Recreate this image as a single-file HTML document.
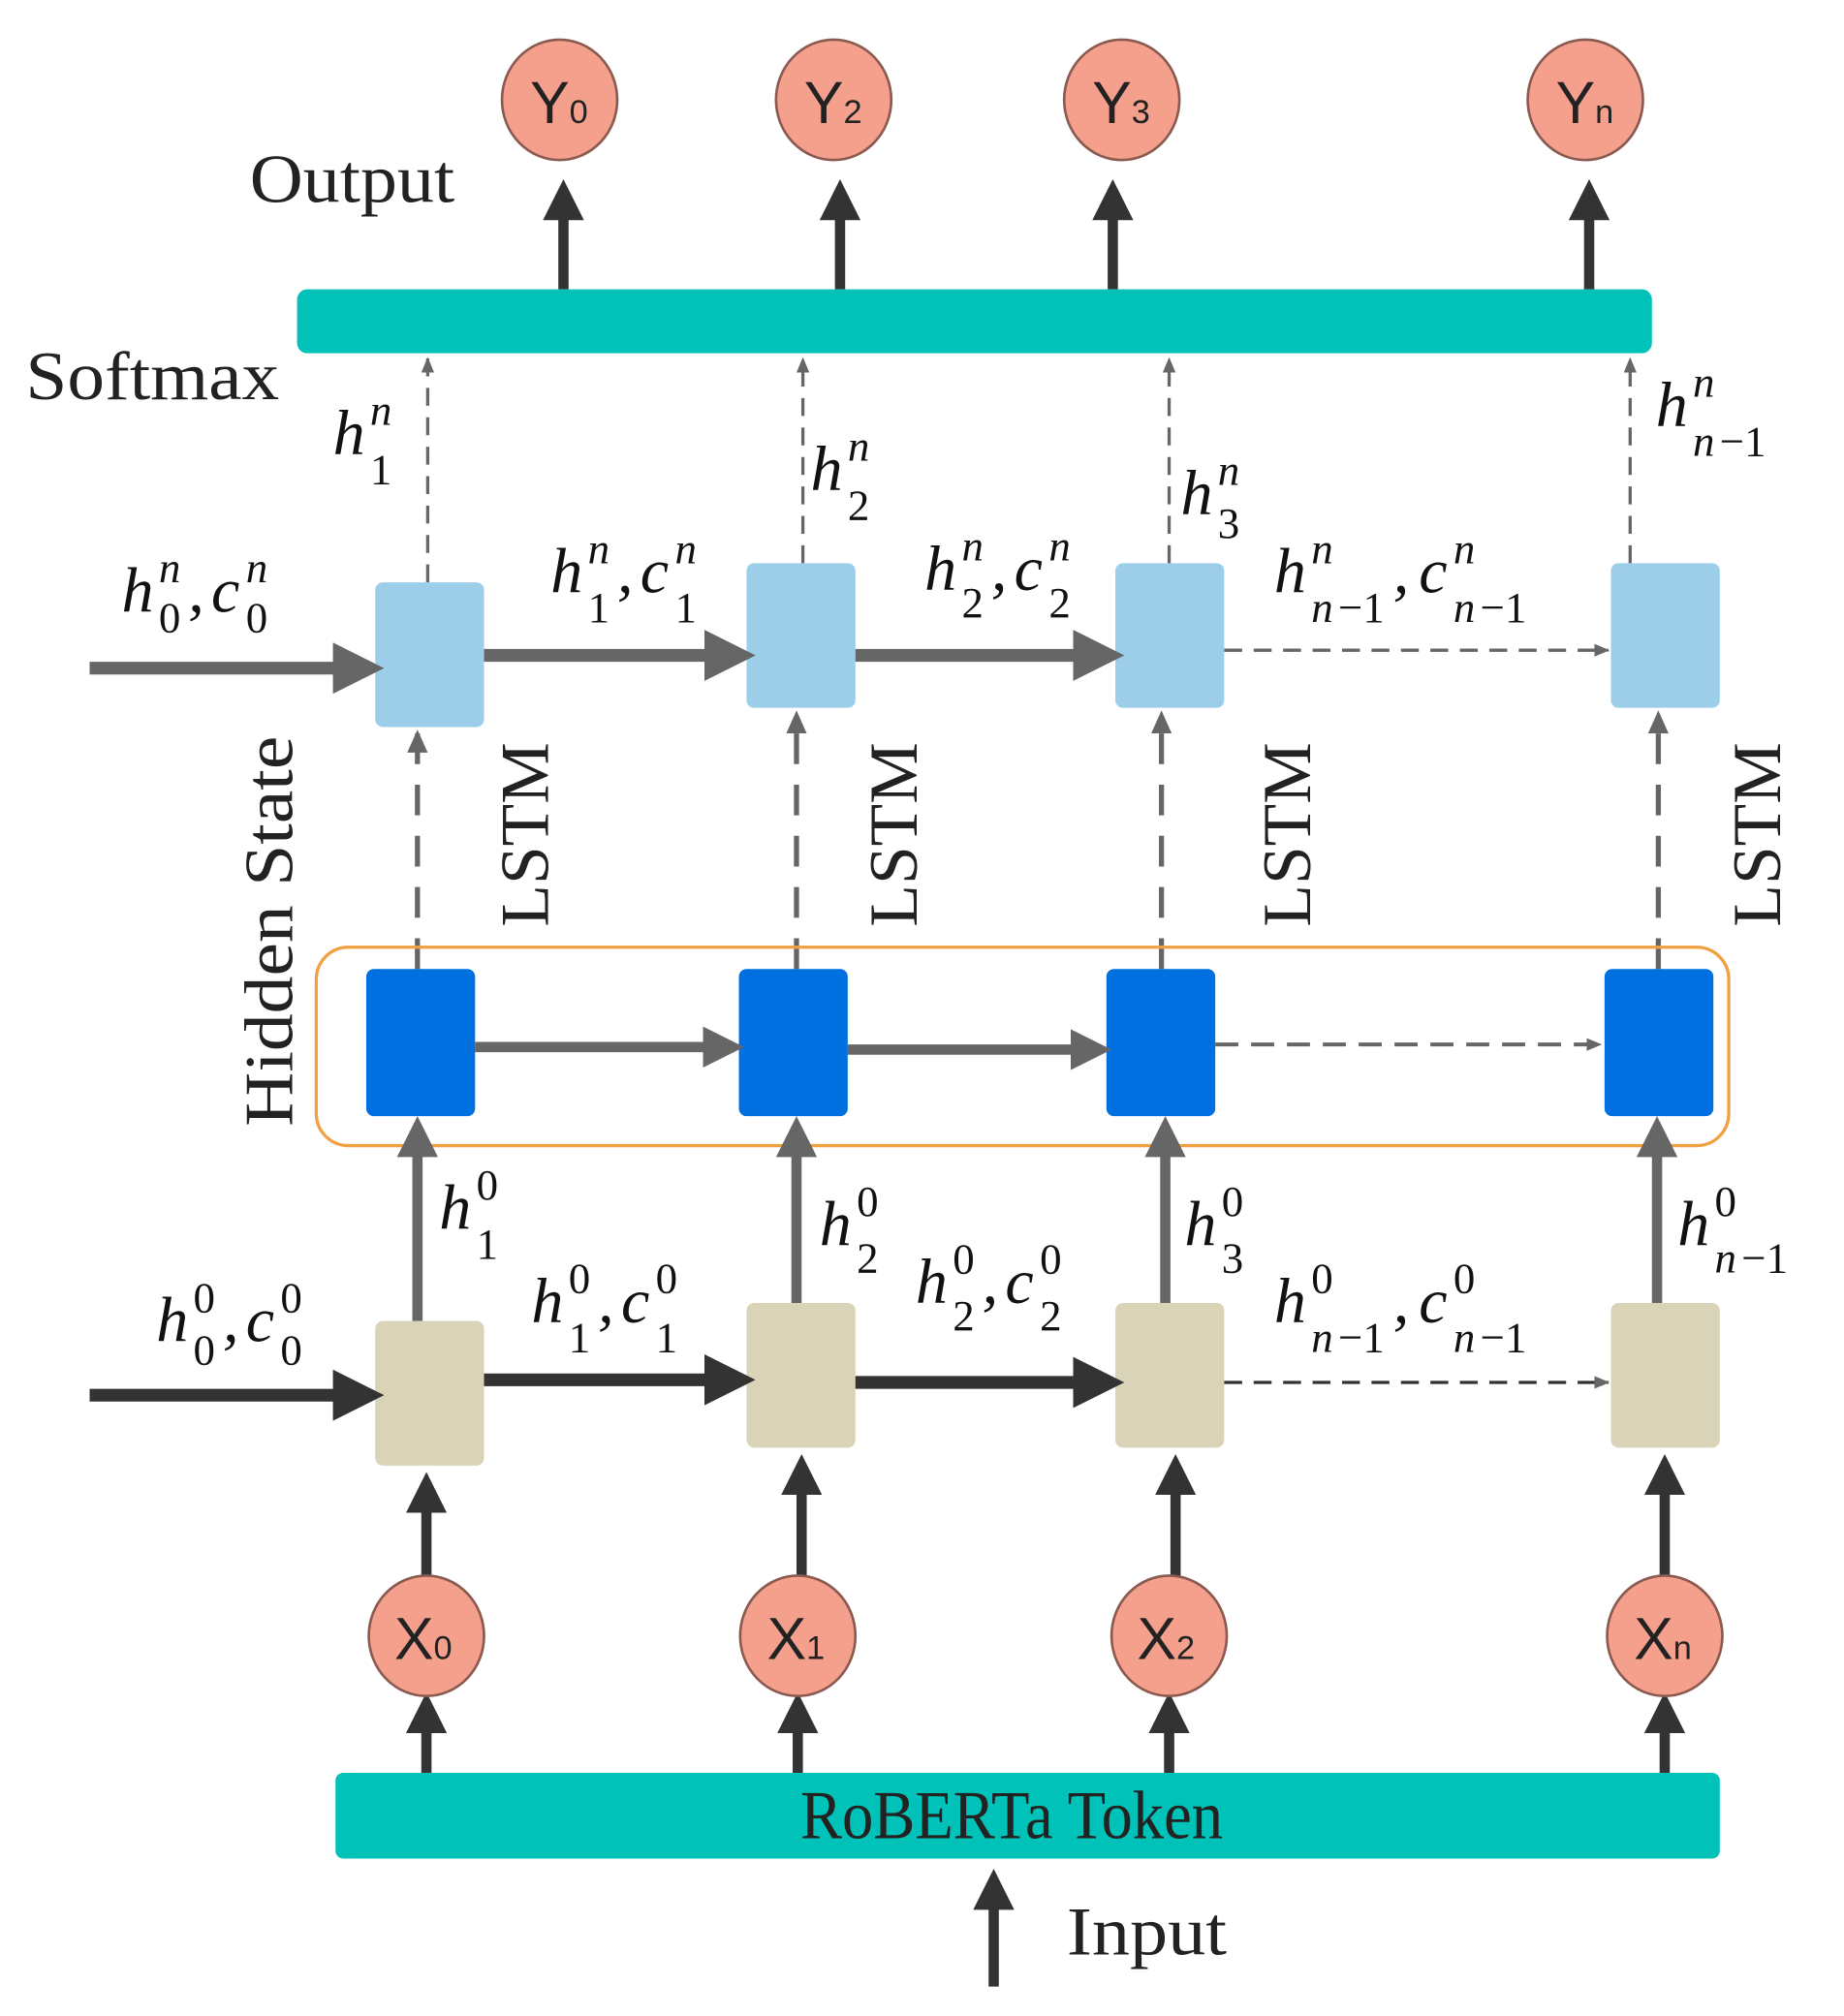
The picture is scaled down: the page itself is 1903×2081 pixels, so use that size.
<!DOCTYPE html>
<html><head><meta charset="utf-8"><style>
html,body{margin:0;padding:0;background:#fff;}
svg{display:block;}
.m{font-family:"Liberation Serif",serif;font-style:italic;font-size:50px;fill:#111;}
.s{font-family:"Liberation Serif",serif;font-size:34px;fill:#111;}
.si{font-family:"Liberation Serif",serif;font-style:italic;font-size:34px;fill:#111;}
.t{font-family:"Liberation Serif",serif;font-size:54px;fill:#222;}
.c{font-family:"Liberation Sans",sans-serif;font-size:46px;fill:#222;}
.cs{font-family:"Liberation Sans",sans-serif;font-size:26px;fill:#222;}
</style></head><body>
<svg width="1903" height="2081" viewBox="0 0 1440 1575" preserveAspectRatio="none" xmlns="http://www.w3.org/2000/svg">
<defs>
<marker id="ak" markerWidth="4" markerHeight="4" refX="3" refY="2" orient="auto" markerUnits="strokeWidth"><path d="M0,0 L4,2 L0,4z" fill="#333"/></marker>
<marker id="ag" markerWidth="4" markerHeight="4" refX="3" refY="2" orient="auto" markerUnits="strokeWidth"><path d="M0,0 L4,2 L0,4z" fill="#666"/></marker>
<marker id="ad" markerWidth="12" markerHeight="10" refX="11" refY="5" orient="auto" markerUnits="userSpaceOnUse"><path d="M0,0 L12,5 L0,10z" fill="#666"/></marker>
<marker id="ad2" markerWidth="18" markerHeight="16" refX="16" refY="8" orient="auto" markerUnits="userSpaceOnUse"><path d="M0,0 L18,8 L0,16z" fill="#666"/></marker>
</defs>

<!-- Y circles -->
<g fill="#f4a08c" stroke="#8a5a50" stroke-width="2">
<ellipse cx="437" cy="78" rx="45" ry="47"/><ellipse cx="651" cy="78" rx="45" ry="47"/>
<ellipse cx="876" cy="78" rx="45" ry="47"/><ellipse cx="1238" cy="78" rx="45" ry="47"/>
</g>
<g class="c">
<text x="414" y="96">Y<tspan class="cs">0</tspan></text>
<text x="628" y="96">Y<tspan class="cs">2</tspan></text>
<text x="853" y="96">Y<tspan class="cs">3</tspan></text>
<text x="1215" y="96">Y<tspan class="cs">n</tspan></text>
</g>
<text class="t" x="195" y="158" textLength="160" lengthAdjust="spacingAndGlyphs">Output</text>

<!-- softmax to Y arrows -->
<g stroke="#333" stroke-width="8" marker-end="url(#ak)">
<line x1="440" y1="226" x2="440" y2="148"/><line x1="656" y1="226" x2="656" y2="148"/>
<line x1="869" y1="226" x2="869" y2="148"/><line x1="1241" y1="226" x2="1241" y2="148"/>
</g>

<rect x="232" y="226" width="1058" height="50" rx="8" fill="#00c2b8"/>
<text class="t" x="20" y="312" textLength="198" lengthAdjust="spacingAndGlyphs">Softmax</text>

<!-- dashed up to softmax -->
<g stroke="#666" stroke-width="2.5" stroke-dasharray="14,9" marker-end="url(#ad)">
<line x1="334" y1="455" x2="334" y2="280"/><line x1="627" y1="440" x2="627" y2="280"/>
<line x1="913" y1="440" x2="913" y2="280"/><line x1="1273" y1="440" x2="1273" y2="280"/>
</g>

<!-- top LSTM boxes -->
<g fill="#9ccde9">
<rect x="293" y="455" width="85" height="113" rx="6"/><rect x="583" y="440" width="85" height="113" rx="6"/>
<rect x="871" y="440" width="85" height="113" rx="6"/><rect x="1258" y="440" width="85" height="113" rx="6"/>
</g>
<g stroke="#666" stroke-width="10" marker-end="url(#ag)">
<line x1="70" y1="522" x2="290" y2="522"/>
<line x1="378" y1="512" x2="580" y2="512"/>
<line x1="668" y1="512" x2="868" y2="512"/>
</g>
<line x1="956" y1="508" x2="1256" y2="508" stroke="#666" stroke-width="2.5" stroke-dasharray="14,9" marker-end="url(#ad)"/>

<!-- dashed up hidden->LSTM -->
<g stroke="#666" stroke-width="4" stroke-dasharray="24,16" marker-end="url(#ad2)">
<line x1="326" y1="757" x2="326" y2="572"/><line x1="622" y1="757" x2="622" y2="557"/>
<line x1="907" y1="757" x2="907" y2="557"/><line x1="1295" y1="757" x2="1295" y2="557"/>
</g>
<g class="t" font-size="50">
<text transform="translate(428,724) rotate(-90)">LSTM</text>
<text transform="translate(716,724) rotate(-90)">LSTM</text>
<text transform="translate(1023,724) rotate(-90)">LSTM</text>
<text transform="translate(1390,724) rotate(-90)">LSTM</text>
<text transform="translate(228,880) rotate(-90)" textLength="305" lengthAdjust="spacingAndGlyphs">Hidden State</text>
</g>

<!-- hidden box -->
<rect x="247" y="740" width="1103" height="155" rx="25" fill="none" stroke="#f0a040" stroke-width="2.5"/>
<g fill="#0070e0">
<rect x="286" y="757" width="85" height="115" rx="6"/><rect x="577" y="757" width="85" height="115" rx="6"/>
<rect x="864" y="757" width="85" height="115" rx="6"/><rect x="1253" y="757" width="85" height="115" rx="6"/>
</g>
<g stroke="#666" stroke-width="8" marker-end="url(#ag)">
<line x1="371" y1="818" x2="573" y2="818"/>
<line x1="662" y1="820" x2="860" y2="820"/>
</g>
<line x1="949" y1="816" x2="1250" y2="816" stroke="#666" stroke-width="3" stroke-dasharray="18,10" marker-end="url(#ad)"/>

<!-- gray up from bottom boxes -->
<g stroke="#666" stroke-width="8" marker-end="url(#ag)">
<line x1="326" y1="1032" x2="326" y2="880"/><line x1="622" y1="1018" x2="622" y2="880"/>
<line x1="910" y1="1018" x2="910" y2="880"/><line x1="1294" y1="1018" x2="1294" y2="880"/>
</g>

<!-- bottom boxes -->
<g fill="#d9d4b8">
<rect x="293" y="1032" width="85" height="113" rx="6"/><rect x="583" y="1018" width="85" height="113" rx="6"/>
<rect x="871" y="1018" width="85" height="113" rx="6"/><rect x="1258" y="1018" width="85" height="113" rx="6"/>
</g>
<g stroke="#333" stroke-width="10" marker-end="url(#ak)">
<line x1="70" y1="1090" x2="290" y2="1090"/>
<line x1="378" y1="1078" x2="580" y2="1078"/>
<line x1="668" y1="1080" x2="868" y2="1080"/>
</g>
<line x1="956" y1="1080" x2="1256" y2="1080" stroke="#333" stroke-width="2.5" stroke-dasharray="14,9" marker-end="url(#ad)"/>

<!-- X arrows -->
<g stroke="#333" stroke-width="8" marker-end="url(#ak)">
<line x1="333" y1="1235" x2="333" y2="1158"/><line x1="626" y1="1235" x2="626" y2="1144"/>
<line x1="918" y1="1235" x2="918" y2="1144"/><line x1="1300" y1="1235" x2="1300" y2="1144"/>
<line x1="333" y1="1385" x2="333" y2="1330"/><line x1="623" y1="1385" x2="623" y2="1330"/>
<line x1="913" y1="1385" x2="913" y2="1330"/><line x1="1300" y1="1385" x2="1300" y2="1330"/>
<line x1="776" y1="1552" x2="776" y2="1468"/>
</g>
<g fill="#f4a08c" stroke="#8a5a50" stroke-width="2">
<ellipse cx="333" cy="1278" rx="45" ry="47"/><ellipse cx="623" cy="1278" rx="45" ry="47"/>
<ellipse cx="913" cy="1278" rx="45" ry="47"/><ellipse cx="1300" cy="1278" rx="45" ry="47"/>
</g>
<g class="c">
<text x="308" y="1296">X<tspan class="cs">0</tspan></text>
<text x="599" y="1296">X<tspan class="cs">1</tspan></text>
<text x="888" y="1296">X<tspan class="cs">2</tspan></text>
<text x="1276" y="1296">X<tspan class="cs">n</tspan></text>
</g>

<rect x="262" y="1385" width="1081" height="67" rx="6" fill="#00c2b8"/>
<text class="t" x="625" y="1436" font-size="44" textLength="330" lengthAdjust="spacingAndGlyphs">RoBERTa Token</text>
<text class="t" x="833" y="1527" textLength="125" lengthAdjust="spacingAndGlyphs">Input</text>

<!-- math labels top -->
<g>
<text class="m" x="95" y="478">h</text><text class="si" x="124" y="455">n</text><text class="s" x="124" y="494">0</text><text class="m" x="147" y="478">,</text>
<text class="m" x="165" y="478">c</text><text class="si" x="192" y="455">n</text><text class="s" x="192" y="494">0</text>

<text class="m" x="260" y="355">h</text><text class="si" x="289" y="332">n</text><text class="s" x="289" y="378">1</text>
<text class="m" x="633" y="383">h</text><text class="si" x="662" y="360">n</text><text class="s" x="662" y="406">2</text>
<text class="m" x="922" y="402">h</text><text class="si" x="951" y="379">n</text><text class="s" x="951" y="420">3</text>
<text class="m" x="1293" y="333">h</text><text class="si" x="1322" y="310">n</text><text class="si" x="1322" y="356">n</text><text class="s" x="1343" y="356">−1</text>

<text class="m" x="430" y="463">h</text><text class="si" x="459" y="440">n</text><text class="s" x="459" y="486">1</text><text class="m" x="482" y="463">,</text>
<text class="m" x="500" y="463">c</text><text class="si" x="527" y="440">n</text><text class="s" x="527" y="486">1</text>

<text class="m" x="722" y="461">h</text><text class="si" x="751" y="438">n</text><text class="s" x="751" y="482">2</text><text class="m" x="774" y="461">,</text>
<text class="m" x="792" y="461">c</text><text class="si" x="819" y="438">n</text><text class="s" x="819" y="482">2</text>

<text class="m" x="995" y="463">h</text><text class="si" x="1024" y="440">n</text><text class="si" x="1024" y="486">n</text><text class="s" x="1045" y="486">−1</text><text class="m" x="1088" y="463">,</text>
<text class="m" x="1108" y="463">c</text><text class="si" x="1135" y="440">n</text><text class="si" x="1135" y="486">n</text><text class="s" x="1156" y="486">−1</text>
</g>
<!-- math labels bottom -->
<g>
<text class="m" x="122" y="1048">h</text><text class="s" x="151" y="1025">0</text><text class="s" x="151" y="1066">0</text><text class="m" x="174" y="1048">,</text>
<text class="m" x="192" y="1048">c</text><text class="s" x="219" y="1025">0</text><text class="s" x="219" y="1066">0</text>

<text class="m" x="343" y="960">h</text><text class="s" x="372" y="937">0</text><text class="s" x="372" y="983">1</text>
<text class="m" x="640" y="973">h</text><text class="s" x="669" y="950">0</text><text class="s" x="669" y="994">2</text>
<text class="m" x="925" y="973">h</text><text class="s" x="954" y="950">0</text><text class="s" x="954" y="994">3</text>
<text class="m" x="1310" y="973">h</text><text class="s" x="1339" y="950">0</text><text class="si" x="1339" y="994">n</text><text class="s" x="1360" y="994">−1</text>

<text class="m" x="415" y="1033">h</text><text class="s" x="444" y="1010">0</text><text class="s" x="444" y="1056">1</text><text class="m" x="467" y="1033">,</text>
<text class="m" x="485" y="1033">c</text><text class="s" x="512" y="1010">0</text><text class="s" x="512" y="1056">1</text>

<text class="m" x="715" y="1018">h</text><text class="s" x="744" y="995">0</text><text class="s" x="744" y="1039">2</text><text class="m" x="767" y="1018">,</text>
<text class="m" x="785" y="1018">c</text><text class="s" x="812" y="995">0</text><text class="s" x="812" y="1039">2</text>

<text class="m" x="995" y="1033">h</text><text class="s" x="1024" y="1010">0</text><text class="si" x="1024" y="1056">n</text><text class="s" x="1045" y="1056">−1</text><text class="m" x="1088" y="1033">,</text>
<text class="m" x="1108" y="1033">c</text><text class="s" x="1135" y="1010">0</text><text class="si" x="1135" y="1056">n</text><text class="s" x="1156" y="1056">−1</text>
</g>
</svg>
</body></html>
